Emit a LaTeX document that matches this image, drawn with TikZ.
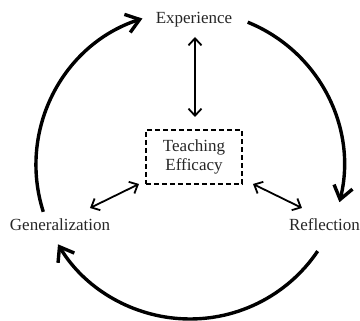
\documentclass[tikz,border=0pt]{standalone}
\usepackage{fontspec}
\setmainfont{Liberation Serif}
\usetikzlibrary{arrows.meta}
\begin{document}
\begin{tikzpicture}[x=1pt,y=1pt,
  lbl/.style={font=\fontsize{17}{20}\selectfont, text=black!85, inner sep=0pt, anchor=base},
  bigarr/.style={line width=3.4pt, -{Straight Barb[length=13pt,width=19pt,line width=3.4pt]}},
  smallarr/.style={line width=1.8pt, {Straight Barb[length=7pt,width=13pt,line width=1.8pt]}-{Straight Barb[length=7pt,width=13pt,line width=1.8pt]}},
  effbox/.style={draw, dash pattern=on 5pt off 3pt, line width=1.3pt, minimum width=96pt, minimum height=54pt, align=center, font=\fontsize{17}{20}\selectfont, text=black!85, inner sep=0pt}]
\useasboundingbox (0,0) rectangle (360,321);
\node[lbl] (exp) at (194,297.7) {Experience};
\node[lbl] (gen) at (60,90.3) {Generalization};
\node[lbl] (ref) at (324.5,90.7) {Reflection};
\node[effbox] (te) at (194,164) {Teaching\\[-1pt]Efficacy};
\coordinate (c) at (190,156);
\coordinate (vt) at (195,284);
\coordinate (vb) at (195,204);
\coordinate (lt) at (90,113);
\coordinate (lb) at (139,137);
\coordinate (rt) at (253,137);
\coordinate (rb) at (302,113);
\draw[smallarr] (vt) -- (vb);
\draw[smallarr] (lt) -- (lb);
\draw[smallarr] (rt) -- (rb);
\draw[bigarr] ([shift={(197.7:154pt)}]c) arc[start angle=197.7, end angle=108, radius=154pt];
\draw[bigarr] ([shift={(68:154pt)}]c) arc[start angle=68, end angle=-14, radius=154pt];
\draw[bigarr] ([shift={(-34:154pt)}]c) arc[start angle=-34, end angle=-149, radius=154pt];
\end{tikzpicture}
\end{document}
